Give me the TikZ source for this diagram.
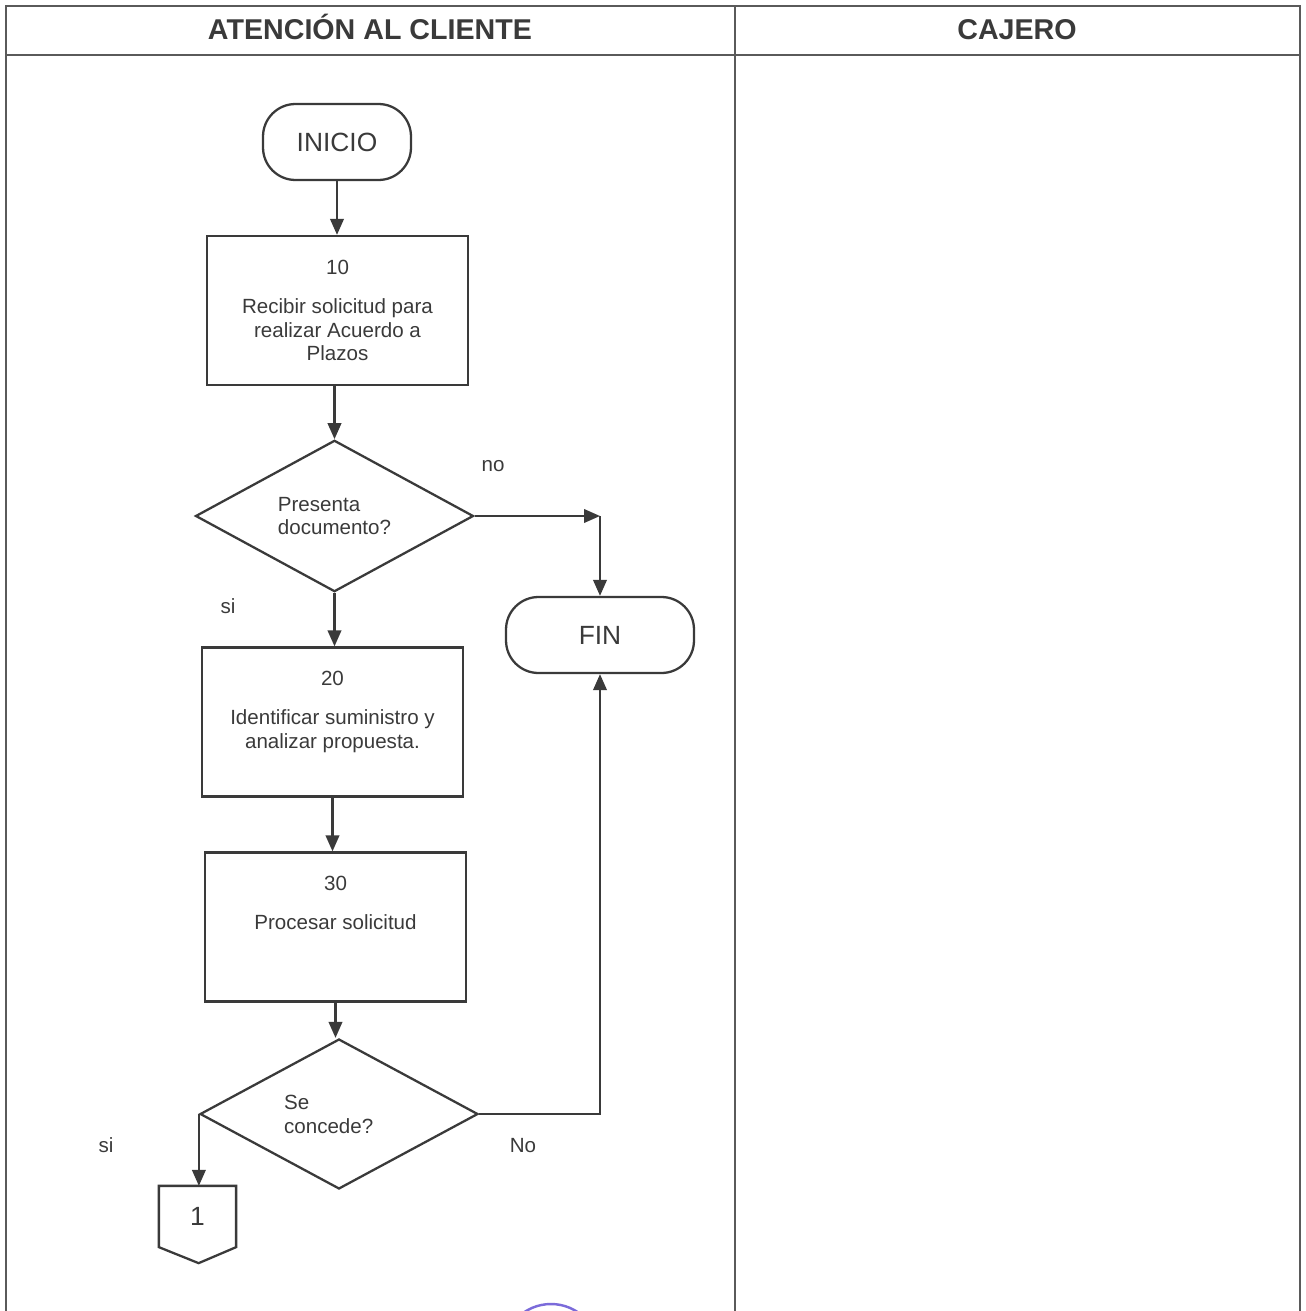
\documentclass[tikz,border=0pt]{standalone}
\usepackage{fontspec}
\setmainfont{Liberation Sans}
\usetikzlibrary{shapes.geometric,arrows.meta}

\definecolor{linea}{HTML}{3A3A3A}
\definecolor{marco}{HTML}{5A5A5A}
\definecolor{sello}{HTML}{7B6BDA}

\tikzset{
  flecha/.style={-{Triangle[length=0.32cm,width=0.27cm]}},
  terminal/.style={draw, rounded corners=0.65cm, minimum height=1.52cm, font=\fontsize{15}{18}\selectfont},
  proceso/.style={draw, minimum width=5.22cm, minimum height=2.98cm, align=center, font=\fontsize{11.7}{13.6}\selectfont},
  decision/.style={draw, diamond, minimum width=5.56cm, minimum height=3cm, inner sep=0pt, align=left, font=\fontsize{11.7}{13.6}\selectfont},
  etiqueta/.style={font=\fontsize{11.7}{13.6}\selectfont},
  carril/.style={anchor=base, font=\bfseries\fontsize{16.3}{19}\selectfont}
}

\begin{document}
\begin{tikzpicture}[x=0.02cm, y=-0.02cm, line width=1.3pt, color=linea]
    \useasboundingbox (0,0) rectangle (1305,1311);

    % marco de los carriles
    \draw[marco, line width=1pt] (6,1311) -- (6,6) -- (1300,6) -- (1300,1311);
    \draw[marco, line width=1pt] (6,55) -- (1300,55);
    \draw[marco, line width=1pt] (735,6) -- (735,1311);
    \node[carril] (atencion) at (370,40) {ATENCIÓN AL CLIENTE};
    \node[carril] (cajero) at (1017,40) {CAJERO};

    \node[terminal, minimum width=2.96cm] (ini) at (337,142) {INICIO};
    \node[proceso] (b10) at (337.5,310.5) {10\\[0.3cm]Recibir solicitud para\\realizar Acuerdo a\\Plazos};
    \node[decision] (d1) at (334.5,516) {Presenta\\documento?};
    \node[terminal, minimum width=3.76cm] (fin) at (600,635) {FIN};
    \node[proceso] (b20) at (332.5,722) {20\\[0.3cm]Identificar suministro y\\analizar propuesta.\\~};
    \node[proceso] (b30) at (335.5,927) {30\\[0.3cm]Procesar solicitud\\~\\~};
    \node[decision] (d2) at (339,1114) {Se\\concede?\phantom{xx}};
    \node[minimum width=1.5cm, minimum height=1.18cm, font=\fontsize{15}{18}\selectfont] (uno) at (197.5,1216.5) {1};
    \draw (uno.north west) -- (uno.north east) -- (uno.south east) -- ++(-37.5,16) -- (uno.south west) -- cycle;

    \node[etiqueta] (no1) at (493,466) {no};
    \node[etiqueta] (si1) at (228,606) {si};
    \node[etiqueta] (no2) at (523,1146) {No};
    \node[etiqueta] (si2) at (106,1145) {si};

    \coordinate (esq) at (d1.east -| fin.north);
    \draw[flecha] (ini.south) -- (ini.south |- b10.north);
    \draw[flecha] (b10.south -| d1.north) -- (d1.north);
    \draw[flecha] (d1.east) -- (esq);
    \draw[flecha] (esq) -- (fin.north);
    \draw[flecha] (d1.south) -- (d1.south |- b20.north);
    \draw[flecha] (b20.south) -- (b20.south |- b30.north);
    \draw[flecha] (b30.south) -- (b30.south |- d2.north);
    \draw[flecha] (d2.east) -- (d2.east -| fin.south) -- (fin.south);
    \draw[flecha] (d2.west) -- (d2.west |- uno.north);

    \begin{scope}
      \clip (0,0) rectangle (1305,1311);
      \draw[sello, line width=1.4pt] (551,1352) circle (0.96cm);
    \end{scope}
\end{tikzpicture}
\end{document}
